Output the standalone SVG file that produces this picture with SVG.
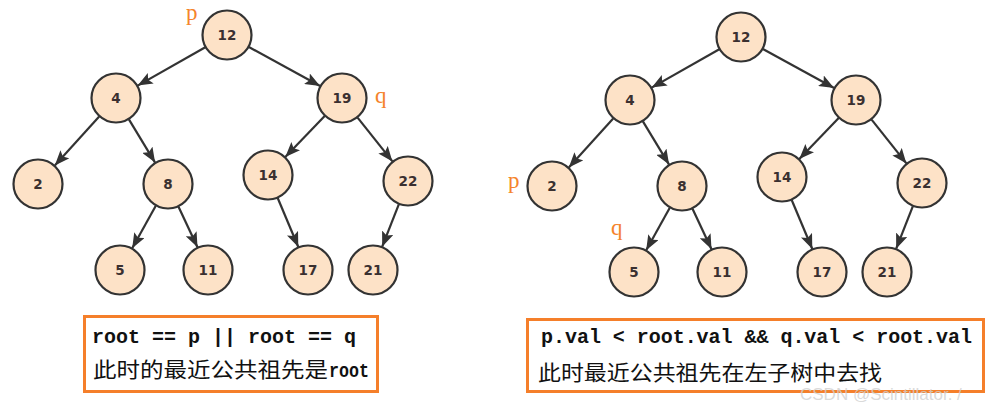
<svg xmlns="http://www.w3.org/2000/svg" width="1000" height="405" viewBox="0 0 1000 405">
<style>
.n circle{fill:#fde2c7;stroke:#333;stroke-width:2.2}
.n text{font-family:"DejaVu Sans",sans-serif;font-weight:bold;font-size:13.5px;fill:#3a3030;text-anchor:middle;dominant-baseline:central}
.e line{stroke:#333;stroke-width:2.2;marker-end:url(#ah)}
.lbl{font-family:"Liberation Serif",serif;font-size:23px;fill:#f5842c}
.box{fill:#fff;stroke:#f57f2a;stroke-width:3}
.code{font-family:"Liberation Mono",monospace;font-size:20px;font-weight:bold;fill:#111}
.cjk{font-family:"Noto Sans CJK SC",sans-serif;font-size:21px;fill:#111}
</style>
<defs>
<marker id="ah" markerUnits="userSpaceOnUse" markerWidth="16" markerHeight="12" refX="15" refY="6" orient="auto">
<path d="M0,0 L15,6 L0,12 L3,6 Z" fill="#333"/>
</marker>
</defs>
<rect width="1000" height="405" fill="#fff"/>
<g id="connectors-left" class="e">
<line x1="205.3" y1="47.3" x2="137.7" y2="85.6"/>
<line x1="248.9" y1="47" x2="320.1" y2="86"/>
<line x1="99.2" y1="116.5" x2="54.8" y2="165.5"/>
<line x1="128.9" y1="119.4" x2="155.1" y2="162.6"/>
<line x1="324.7" y1="116" x2="285.3" y2="157"/>
<line x1="357.6" y1="117.6" x2="392.4" y2="161.4"/>
<line x1="155.8" y1="205.8" x2="132.2" y2="248.2"/>
<line x1="178.5" y1="206.7" x2="197.5" y2="247.3"/>
<line x1="277.7" y1="198" x2="298.3" y2="247"/>
<line x1="398.8" y1="204.3" x2="382.2" y2="246.7"/>
</g>
<g id="connectors-right" class="e" transform="translate(514,2)">
<line x1="205.3" y1="47.3" x2="137.7" y2="85.6"/>
<line x1="248.9" y1="47" x2="320.1" y2="86"/>
<line x1="99.2" y1="116.5" x2="54.8" y2="165.5"/>
<line x1="128.9" y1="119.4" x2="155.1" y2="162.6"/>
<line x1="324.7" y1="116" x2="285.3" y2="157"/>
<line x1="357.6" y1="117.6" x2="392.4" y2="161.4"/>
<line x1="155.8" y1="205.8" x2="132.2" y2="248.2"/>
<line x1="178.5" y1="206.7" x2="197.5" y2="247.3"/>
<line x1="277.7" y1="198" x2="298.3" y2="247"/>
<line x1="398.8" y1="204.3" x2="382.2" y2="246.7"/>
</g>
<g id="L12" class="n"><circle cx="227" cy="35" r="24.5"/><text x="227" y="35">12</text></g>
<g id="L4" class="n"><circle cx="116" cy="98" r="24.5"/><text x="116" y="98">4</text></g>
<g id="L19" class="n"><circle cx="342" cy="98" r="24.5"/><text x="342" y="98">19</text></g>
<g id="L2" class="n"><circle cx="38" cy="184" r="24.5"/><text x="38" y="184">2</text></g>
<g id="L8" class="n"><circle cx="168" cy="184" r="24.5"/><text x="168" y="184">8</text></g>
<g id="L14" class="n"><circle cx="268" cy="175" r="24.5"/><text x="268" y="175">14</text></g>
<g id="L22" class="n"><circle cx="408" cy="181" r="24.5"/><text x="408" y="181">22</text></g>
<g id="L5" class="n"><circle cx="120" cy="270" r="24.5"/><text x="120" y="270">5</text></g>
<g id="L11" class="n"><circle cx="208" cy="270" r="24.5"/><text x="208" y="270">11</text></g>
<g id="L17" class="n"><circle cx="308" cy="270" r="24.5"/><text x="308" y="270">17</text></g>
<g id="L21" class="n"><circle cx="373" cy="270" r="24.5"/><text x="373" y="270">21</text></g>
<g id="R12" class="n"><circle cx="741" cy="37" r="24.5"/><text x="741" y="37">12</text></g>
<g id="R4" class="n"><circle cx="630" cy="100" r="24.5"/><text x="630" y="100">4</text></g>
<g id="R19" class="n"><circle cx="856" cy="100" r="24.5"/><text x="856" y="100">19</text></g>
<g id="R2" class="n"><circle cx="552" cy="186" r="24.5"/><text x="552" y="186">2</text></g>
<g id="R8" class="n"><circle cx="682" cy="186" r="24.5"/><text x="682" y="186">8</text></g>
<g id="R14" class="n"><circle cx="782" cy="177" r="24.5"/><text x="782" y="177">14</text></g>
<g id="R22" class="n"><circle cx="922" cy="183" r="24.5"/><text x="922" y="183">22</text></g>
<g id="R5" class="n"><circle cx="634" cy="272" r="24.5"/><text x="634" y="272">5</text></g>
<g id="R11" class="n"><circle cx="722" cy="272" r="24.5"/><text x="722" y="272">11</text></g>
<g id="R17" class="n"><circle cx="822" cy="272" r="24.5"/><text x="822" y="272">17</text></g>
<g id="R21" class="n"><circle cx="887" cy="272" r="24.5"/><text x="887" y="272">21</text></g>
<g id="labels">
<text class="lbl" x="186" y="20">p</text>
<text class="lbl" x="375" y="103">q</text>
<text class="lbl" x="508" y="188">p</text>
<text class="lbl" x="611" y="235">q</text>
</g>
<g id="box-left">
<rect class="box" x="84.5" y="316.5" width="293" height="75"/>
<text class="code" x="92" y="343" textLength="264" lengthAdjust="spacing">root == p || root == q</text>
<text class="cjk" x="93" y="377" textLength="235" lengthAdjust="spacingAndGlyphs">此时的最近公共祖先是</text>
<text class="code" x="329" y="377" textLength="40" lengthAdjust="spacingAndGlyphs">root</text>
</g>
<g id="box-right">
<rect class="box" x="527.5" y="319.5" width="456" height="72"/>
<text class="code" x="541" y="343" textLength="431" lengthAdjust="spacing">p.val &lt; root.val &amp;&amp; q.val &lt; root.val</text>
<text class="cjk" x="538" y="380" textLength="344" lengthAdjust="spacingAndGlyphs">此时最近公共祖先在左子树中去找</text>
</g>
<text x="800" y="400" font-family="Liberation Sans,sans-serif" font-size="17" fill="#d0d0d0" fill-opacity="0.8">CSDN @Scintillator.  /</text>
</svg>
